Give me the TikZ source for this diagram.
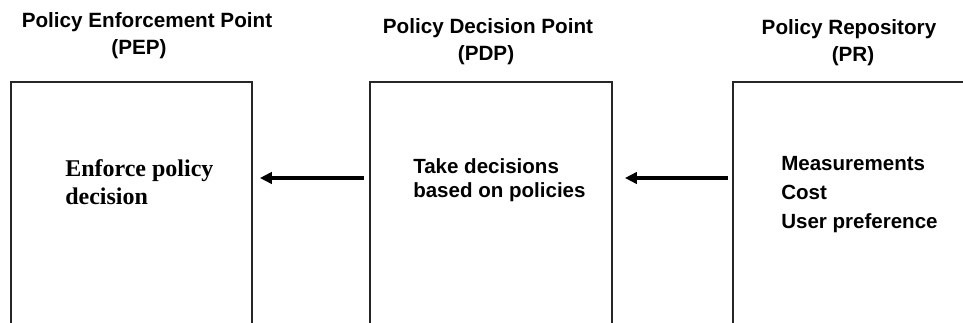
\documentclass[tikz,border=0pt]{standalone}
\usepackage{fontspec}
\setmainfont{Liberation Serif}
\newfontfamily\sansbold{Liberation Sans}[BoldFont={Liberation Sans Bold}]
\usetikzlibrary{arrows.meta}

\tikzset{
  box/.style={draw=black!85, line width=1.3pt, rectangle, inner sep=0pt, fill=none},
  title/.style={inner sep=0pt, anchor=base, font=\sansbold\bfseries\fontsize{15.5pt}{18pt}\selectfont},
  bodysans/.style={inner sep=0pt, anchor=base west, font=\sansbold\bfseries\fontsize{15.4pt}{18pt}\selectfont},
  bodyserif/.style={inner sep=0pt, anchor=base west, font=\bfseries\fontsize{18pt}{21pt}\selectfont},
  flow/.style={line width=2.3pt, -{Triangle[length=9pt, width=8.5pt]}}
}

\begin{document}
\begin{tikzpicture}[x=0.75pt, y=-0.75pt]
  \useasboundingbox (0,0) rectangle (963,323);
  \clip (0,0) rectangle (963,323);
  \fill[white] (0,0) rectangle (963,323);

  % component boxes (they run past the lower and right edges)
  \node[box, minimum width=180.75pt, minimum height=200pt] (pep) at (131.5,215.3) {};
  \node[box, minimum width=181.5pt,  minimum height=200pt] (pdp) at (491,215.3) {};
  \node[box, minimum width=200pt,    minimum height=200pt] (pr)  at (866.3,215.3) {};

  % headings
  \node[title] (peptitle)  at (147,28) {Policy Enforcement Point};
  \node[title] (pepabbr)   at (139,55) {(PEP)};
  \node[title] (pdptitle)  at (488,34) {Policy Decision Point};
  \node[title] (pdpabbr)   at (486,61) {(PDP)};
  \node[title] (prtitle)   at (849,35) {Policy Repository};
  \node[title] (prabbr)    at (853,62) {(PR)};

  % box contents
  \node[bodyserif] (pepline1) at (65,177) {Enforce policy};
  \node[bodyserif] (pepline2) at (65,205) {decision};

  \node[bodysans] (pdpline1) at (413,174) {Take decisions};
  \node[bodysans] (pdpline2) at (413,198) {based on policies};

  \node[bodysans] (prline1) at (781,171) {Measurements};
  \node[bodysans] (prline2) at (781,200) {Cost};
  \node[bodysans] (prline3) at (781,229) {User preference};

  % information flow, right to left
  \coordinate (row) at (0,178);
  \draw[flow] ([xshift=-3.75pt]pdp.west |- row) -- ([xshift=5.25pt]pep.east |- row);
  \draw[flow] ([xshift=-3pt]pr.west |- row) -- ([xshift=9pt]pdp.east |- row);
\end{tikzpicture}
\end{document}
